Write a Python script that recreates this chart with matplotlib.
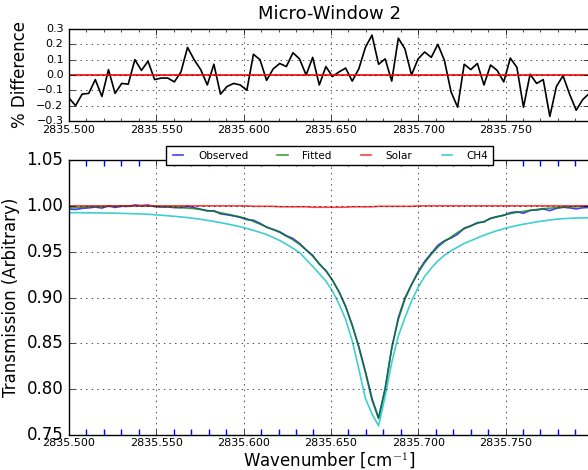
import matplotlib
matplotlib.use('Agg')

import matplotlib.pyplot as plt
import numpy as np
from matplotlib.ticker import MultipleLocator, FormatStrFormatter

plt.style.use('classic')

# wavenumber grid (80 samples across the micro-window)
wavenumber = np.linspace(2835.5, 2835.798, 80)

# percent difference between observed and fitted
pct_diff = [
    -0.15, -0.20, -0.125, -0.12, -0.03, -0.14, 0.035, -0.12, -0.055, -0.06,
    0.10, 0.03, 0.09, -0.03, -0.02, -0.02, -0.045, 0.02, 0.18, 0.10,
    0.035, -0.065, 0.07, -0.125, -0.075, -0.055, -0.065, -0.10, 0.135, 0.10,
    -0.035, 0.04, 0.075, 0.055, 0.145, 0.105, 0.0, 0.115, -0.065, 0.055,
    -0.01, 0.02, 0.045, -0.04, 0.04, 0.18, 0.26, 0.07, 0.105, -0.04,
    0.24, 0.17, 0.0, 0.105, 0.15, 0.115, 0.20, 0.095, -0.11, -0.21,
    0.07, 0.035, 0.075, -0.065, 0.065, 0.03, -0.045, 0.11, 0.05, -0.21,
    0.005, -0.055, -0.03, -0.27, -0.075, -0.005, -0.125, -0.23, -0.16, -0.12,
]

observed = [
    0.9965, 0.9960, 0.9973, 0.9978, 0.9987, 0.9976, 0.9999, 0.9983, 0.9995, 0.9994,
    1.0010, 1.0003, 1.0009, 0.9992, 0.9988, 0.9988, 0.9981, 0.9982, 0.9993, 0.9980,
    0.9963, 0.9944, 0.9947, 0.9913, 0.9903, 0.9890, 0.9874, 0.9850, 0.9843, 0.9810,
    0.9767, 0.9744, 0.9717, 0.9675, 0.9644, 0.9590, 0.9520, 0.9461, 0.9364, 0.9295,
    0.9189, 0.9062, 0.8904, 0.8697, 0.8463, 0.8195, 0.7900, 0.7685, 0.8008, 0.8447,
    0.8781, 0.8995, 0.9140, 0.9280, 0.9394, 0.9481, 0.9569, 0.9619, 0.9649, 0.9690,
    0.9757, 0.9783, 0.9817, 0.9824, 0.9866, 0.9883, 0.9896, 0.9926, 0.9935, 0.9919,
    0.9951, 0.9955, 0.9967, 0.9948, 0.9973, 0.9985, 0.9978, 0.9967, 0.9979, 0.9983,
]

fitted = [
    0.998, 0.998, 0.9985, 0.999, 0.999, 0.999, 0.9995, 0.9995, 1.000, 1.000,
    1.000, 1.000, 1.000, 0.9995, 0.999, 0.999, 0.9985, 0.998, 0.9975, 0.997,
    0.996, 0.995, 0.994, 0.9925, 0.991, 0.9895, 0.988, 0.986, 0.983, 0.980,
    0.977, 0.974, 0.971, 0.967, 0.963, 0.958, 0.952, 0.945, 0.937, 0.929,
    0.919, 0.906, 0.890, 0.870, 0.846, 0.818, 0.788, 0.768, 0.800, 0.845,
    0.876, 0.898, 0.914, 0.927, 0.938, 0.947, 0.955, 0.961, 0.966, 0.971,
    0.975, 0.978, 0.981, 0.983, 0.986, 0.988, 0.990, 0.9915, 0.993, 0.994,
    0.995, 0.996, 0.997, 0.9975, 0.998, 0.9985, 0.999, 0.999, 0.9995, 0.9995,
]

solar = [1.000] * 28 + [0.9995] * 4 + [0.999] * 5 + [0.9985] * 6 + \
        [0.999] * 4 + [0.9995] * 6 + [1.000] * 27

ch4 = [
    0.9925, 0.9925, 0.9925, 0.9924, 0.9923, 0.9922, 0.9921, 0.9920, 0.9918, 0.9916,
    0.9914, 0.9911, 0.9908, 0.9903, 0.9898, 0.9892, 0.9886, 0.9879, 0.9872, 0.9863,
    0.9853, 0.9842, 0.9830, 0.9817, 0.9803, 0.9788, 0.9772, 0.9753, 0.9733, 0.9711,
    0.9687, 0.9655, 0.9622, 0.9582, 0.9537, 0.9490, 0.9415, 0.9340, 0.9260, 0.9180,
    0.9070, 0.8930, 0.8760, 0.8530, 0.8220, 0.7900, 0.7730, 0.7600, 0.7920, 0.8290,
    0.8580, 0.8780, 0.8960, 0.9110, 0.9230, 0.9320, 0.9400, 0.9460, 0.9510, 0.9550,
    0.9590, 0.9620, 0.9650, 0.9680, 0.9705, 0.9730, 0.9750, 0.9770, 0.9785, 0.9800,
    0.9812, 0.9825, 0.9836, 0.9846, 0.9854, 0.9860, 0.9864, 0.9867, 0.9869, 0.9870,
]

xmin, xmax = wavenumber[0], wavenumber[-1]

fig = plt.figure(figsize=(5.88, 4.70), dpi=100, facecolor='white')

# -----------------------------
# top: percent difference
# -----------------------------
ax1 = fig.add_axes([0.1173, 0.7426, 0.885, 0.1957])
ax1.plot(wavenumber, pct_diff, 'k-', lw=1.2)
ax1.axhline(0, color='r', lw=1.2)
ax1.set_xlim(xmin, xmax)
ax1.set_ylim(-0.3, 0.3)
ax1.set_title("Micro-Window 2", fontsize=13, pad=7)
ax1.set_ylabel("% Difference", fontsize=12)
ax1.xaxis.set_major_locator(MultipleLocator(0.05))
ax1.xaxis.set_minor_locator(MultipleLocator(0.01))
ax1.yaxis.set_major_locator(MultipleLocator(0.1))
ax1.xaxis.set_major_formatter(FormatStrFormatter('%.3f'))
ax1.tick_params(labelsize=8)
ax1.tick_params(axis='x', pad=3)
ax1.grid(True)

# -----------------------------
# bottom: transmission spectra
# -----------------------------
ax2 = fig.add_axes([0.1173, 0.0745, 0.885, 0.585])
ax2.plot(wavenumber, observed, color='b', alpha=0.75, lw=1.2, label='Observed')
ax2.plot(wavenumber, fitted, color='g', alpha=0.75, lw=1.2, label='Fitted')
ax2.plot(wavenumber, solar, color='r', alpha=0.75, lw=1.2, label='Solar')
ax2.plot(wavenumber, ch4, color='c', alpha=0.75, lw=1.2, label='CH4')
ax2.set_xlim(xmin, xmax)
ax2.set_ylim(0.75, 1.05)
ax2.set_xlabel("Wavenumber [cm$^{-1}$]", fontsize=12, labelpad=2)
ax2.set_ylabel("Transmission (Arbitrary)", fontsize=12)
ax2.xaxis.set_major_locator(MultipleLocator(0.05))
ax2.xaxis.set_minor_locator(MultipleLocator(0.01))
ax2.yaxis.set_major_locator(MultipleLocator(0.05))
ax2.xaxis.set_major_formatter(FormatStrFormatter('%.3f'))
ax2.yaxis.set_major_formatter(FormatStrFormatter('%.2f'))
ax2.tick_params(axis='x', labelsize=8, pad=2)
ax2.tick_params(axis='y', labelsize=12)
ax2.tick_params(axis='x', which='minor', color='b', size=4, width=1)
ax2.grid(True)

leg = ax2.legend(loc='center', bbox_to_anchor=(0.5, 1.016), ncol=4,
                 fontsize=7.5, handlelength=1.6, handletextpad=1.1,
                 columnspacing=2.5, borderpad=0.4, framealpha=1)

fig.savefig("out.png", dpi=100)
